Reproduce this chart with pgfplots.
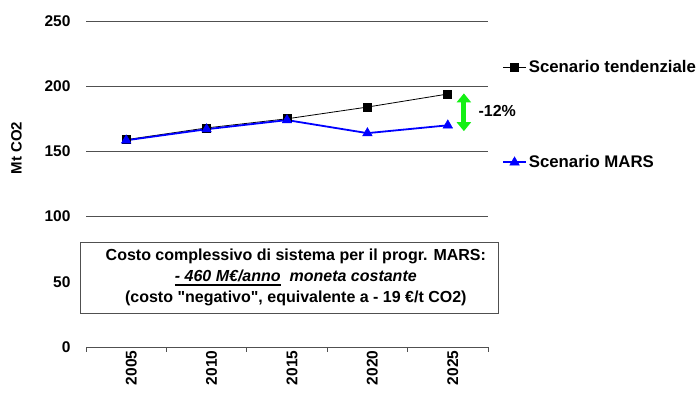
\documentclass[border=0pt]{standalone}
\usepackage{pgfplots}
\pgfplotsset{compat=1.18}
\usepackage{fontspec}
\setmainfont{Liberation Sans}[Ligatures=TeXOff]
\usetikzlibrary{arrows.meta}
\definecolor{arrowgreen}{RGB}{20,240,20}
\definecolor{gridgray}{RGB}{80,80,80}
% thick underline for the headline figure
\newcommand\thickul[1]{\leavevmode\setbox0\hbox{#1}\rlap{\raisebox{-4.5pt}{\rule{\wd0}{1.8pt}}}\box0}

\begin{document}
\begin{tikzpicture}
\begin{axis}[
  name=ax,
  scale only axis,
  width=402pt, height=326pt,
  xmin=-0.5, xmax=4.5,
  ymin=0, ymax=250,
  clip=false,
  axis x line*=bottom,
  axis y line*=left,
  y axis line style={draw=none},
  x axis line style={gridgray, line width=0.9pt},
  xtick={0,1,2,3,4},
  xticklabels={2005,2010,2015,2020,2025},
  major x tick style={draw=none},
  major tick length=0pt,
  extra x ticks={-0.5,0.5,1.5,2.5,3.5,4.5},
  extra x tick labels={},
  extra x tick style={major tick length=5pt, xtick align=outside, major x tick style={draw=gridgray, line width=0.9pt}},
  xticklabel style={rotate=90, anchor=east, font=\fontsize{15.5}{18}\selectfont\bfseries, yshift=-5pt},
  ytick={0,50,100,150,200,250},
  ymajorgrids,
  grid style={gridgray, line width=0.9pt},
  ytick style={draw=none},
  yticklabel style={font=\fontsize{15.5}{18}\selectfont\bfseries, xshift=-12pt},
  /pgf/number format/assume math mode=true,
  ylabel={Mt CO2},
  every axis y label/.style={at={(ticklabel cs:0.61)}, rotate=90, anchor=south, yshift=16pt,
    font=\fontsize{15}{18}\selectfont\bfseries},
  legend style={draw=none, fill=none, at={(rel axis cs:1.035,0.886)}, anchor=north west,
    font=\fontsize{16.8}{19}\selectfont\bfseries, row sep=77.5pt, inner sep=0pt},
  legend cell align=left,
  legend image code/.code={\draw[mark repeat=2,mark phase=2] plot coordinates {(0cm,0cm)(0.4cm,0cm)(0.8cm,0cm)};},
]
% baseline projection
\addplot[black, line width=0.8pt, mark=square*, mark size=4pt, mark options={solid, fill=black}]
  coordinates {(0,159) (1,168) (2,175) (3,184) (4,194)};
\addlegendentry{Scenario tendenziale}
% MARS programme
\addplot[blue, line width=1.8pt, mark=triangle*, mark size=5.5pt, mark options={solid, fill=blue, line width=0.5pt}]
  coordinates {(0,158.5) (1,167) (2,174) (3,164) (4,170)};
\addlegendentry{Scenario MARS}

% reduction arrow and label
\draw[arrowgreen, line width=5pt, {Triangle[width=14pt,length=9pt]}-{Triangle[width=14pt,length=9pt]}]
  (axis cs:4.2,194.5) -- (axis cs:4.2,165.5);
\node[anchor=west, font=\fontsize{16}{19}\selectfont\bfseries, inner sep=0pt] at (axis cs:4.38,181) {-12\%};

% cost summary box
\node[draw=gridgray, line width=0.9pt, fill=white, minimum width=418pt, minimum height=71pt]
  at (axis cs:2.025,53.3) {};
\node[align=center, font=\fontsize{16}{21}\selectfont\bfseries, inner sep=0pt]
  at (axis cs:2.11,53.3)
  {Costo complessivo di sistema per il progr. MARS:\\
   \textit{\thickul{- 460 M€/anno}\ \ moneta costante}\\
   (costo "negativo", equivalente a - 19 €/t CO2)};
\end{axis}
% white margin around the chart
\path (ax.south west) ++(-86pt,-50pt);
\path (ax.north east) ++(211pt,21pt);
\end{tikzpicture}
\end{document}
